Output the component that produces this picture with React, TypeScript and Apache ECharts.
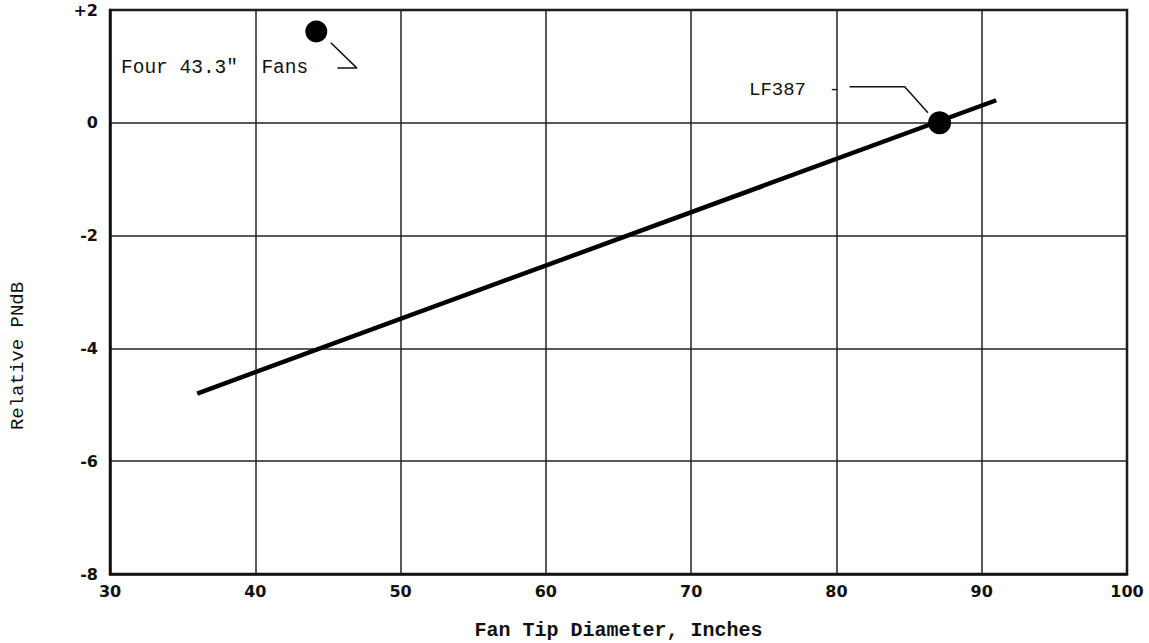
import React, { useEffect, useRef } from "react";
import * as echarts from "echarts";

const xTicks = [30, 40, 50, 60, 70, 80, 90, 100];
const yTicks = [-8, -6, -4, -2, 0, 2];
const trendLine: [number, number][] = [[36, -4.8], [91, 0.4]];
const fourFansPoint: [number, number][] = [[44.2, 1.62]];
const lf387Point: [number, number][] = [[87.1, 0.0]];
const fansLeader: [number, number][] = [[45.65, 0.97], [47.0, 0.97], [45.2, 1.42]];
const lfLeader: [number, number][] = [[80.9, 0.64], [84.7, 0.64], [86.3, 0.18]];

const mono = "'Liberation Mono', 'DejaVu Sans Mono', monospace";

export default function App() {
  const ref = useRef<HTMLDivElement>(null);
  useEffect(() => {
    const chart = echarts.init(ref.current!, undefined, { renderer: "svg" });
    chart.setOption({
      animation: false,
      backgroundColor: "#ffffff",
      grid: { left: 110, right: 22, top: 10, bottom: 69, show: false, containLabel: false, outerBoundsMode: "none" },
      xAxis: {
        type: "value",
        min: 30,
        max: 100,
        interval: 10,
        name: "Fan Tip Diameter, Inches",
        nameLocation: "middle",
        nameGap: 46,
        nameTextStyle: { fontFamily: mono, fontWeight: "bold", fontSize: 20, color: "#111" },
        axisLine: { show: true, onZero: false, lineStyle: { color: "#111", width: 2.5 } },
        axisTick: { show: false },
        axisLabel: {
          fontFamily: "'DejaVu Sans', sans-serif",
          fontWeight: "bold",
          fontSize: 16,
          color: "#111",
          margin: 9,
          formatter: (v: number) => (xTicks.includes(v) ? String(v) : ""),
        },
        splitLine: { show: true, lineStyle: { color: "#222", width: 1.5 } },
      },
      yAxis: {
        type: "value",
        min: -8,
        max: 2,
        interval: 2,
        axisLine: { show: true, onZero: false, lineStyle: { color: "#111", width: 2.5 } },
        axisTick: { show: false },
        axisLabel: {
          fontFamily: "'DejaVu Sans', sans-serif",
          fontWeight: "bold",
          fontSize: 16,
          color: "#111",
          margin: 12,
          formatter: (v: number) => (yTicks.includes(v) ? (v > 0 ? "+" + v : String(v)) : ""),
        },
        splitLine: { show: true, lineStyle: { color: "#222", width: 1.5 } },
      },
      graphic: [
        {
          type: "rect",
          shape: { x: 110, y: 10, width: 1017, height: 564 },
          style: { fill: "none", stroke: "#111", lineWidth: 2.5 },
          silent: true,
        },
        {
          type: "text",
          x: 18,
          y: 356,
          rotation: Math.PI / 2,
          style: {
            text: "Relative PNdB",
            fontFamily: mono,
            fontSize: 19,
            fill: "#111",
            align: "center",
            verticalAlign: "middle",
          },
        },
        {
          type: "text",
          x: 121,
          y: 68,
          style: {
            text: "Four 43.3\"  Fans",
            fontFamily: mono,
            fontSize: 19.5,
            fill: "#111",
            verticalAlign: "middle",
          },
        },
        {
          type: "text",
          x: 749,
          y: 90,
          style: {
            text: "LF387  -",
            fontFamily: mono,
            fontSize: 19,
            fill: "#111",
            verticalAlign: "middle",
          },
        },
      ],
      series: [
        {
          type: "line",
          data: trendLine,
          symbol: "none",
          lineStyle: { color: "#000", width: 4.5 },
          silent: true,
        },
        {
          type: "line",
          data: fansLeader,
          symbol: "none",
          lineStyle: { color: "#111", width: 1.5 },
          silent: true,
        },
        {
          type: "line",
          data: lfLeader,
          symbol: "none",
          lineStyle: { color: "#111", width: 1.5 },
          silent: true,
        },
        {
          type: "scatter",
          data: fourFansPoint,
          symbol: "circle",
          symbolSize: 22,
          itemStyle: { color: "#000", opacity: 1 },
          silent: true,
        },
        {
          type: "scatter",
          data: lf387Point,
          symbol: "circle",
          symbolSize: 23,
          itemStyle: { color: "#000", opacity: 1 },
          silent: true,
        },
      ],
    });
    return () => chart.dispose();
  }, []);
  return (
    <div
      ref={ref}
      style={{ position: "fixed", left: 0, top: 0, width: 1149, height: 643, background: "#fff" }}
    />
  );
}
